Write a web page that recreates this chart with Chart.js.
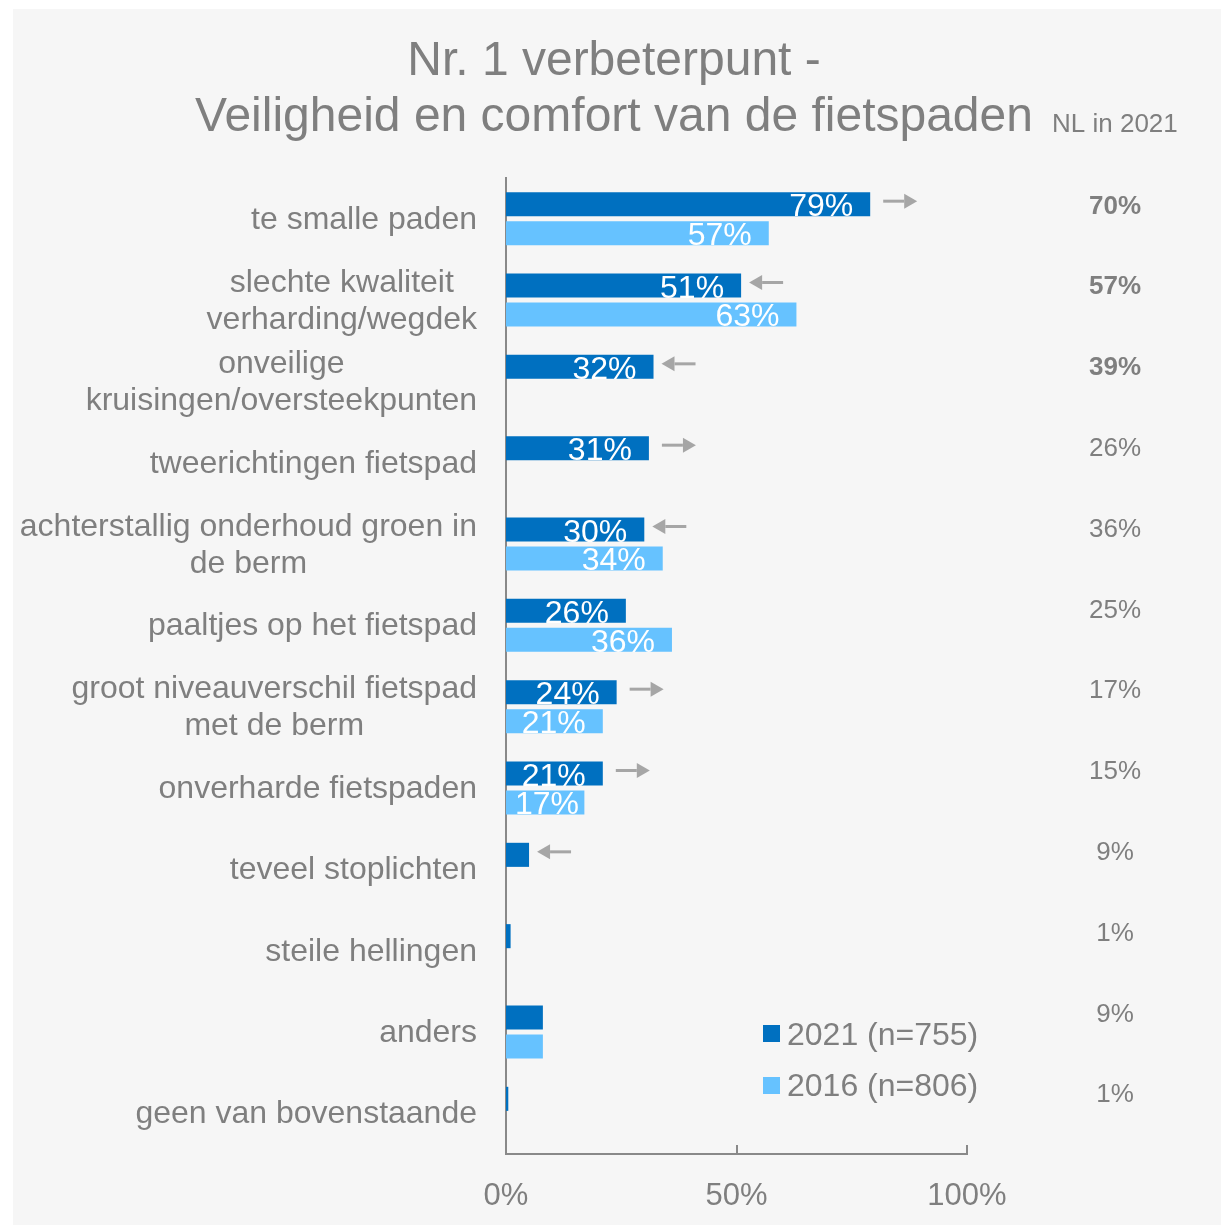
<!DOCTYPE html>
<html>
<head>
<meta charset="utf-8">
<title>Nr. 1 verbeterpunt - Veiligheid en comfort van de fietspaden</title>
<script src="https://cdn.jsdelivr.net/npm/chart.js@4.4.1/dist/chart.umd.min.js"></script>
<style>
	html, body { margin: 0; padding: 0; background: #fff; }
	canvas { display: block; }
</style>
</head>
<body>
<canvas id="chart" width="1223" height="1225"></canvas>
<script>
// labels per category (lines of the label)
const categories = [
	["te smalle paden"],
	["slechte kwaliteit", "verharding/wegdek"],
	["onveilige", "kruisingen/oversteekpunten"],
	["tweerichtingen fietspad"],
	["achterstallig onderhoud groen in", "de berm"],
	["paaltjes op het fietspad"],
	["groot niveauverschil fietspad", "met de berm"],
	["onverharde fietspaden"],
	["teveel stoplichten"],
	["steile hellingen"],
	["anders"],
	["geen van bovenstaande"]
];
const values2021 = [79, 51, 32, 31, 30, 26, 24, 21, 5, 1, 8, 0.5];
const values2016 = [57, 63, null, null, 34, 36, 21, 17, null, null, 8, null];
// arrow next to the 2021 bar
const trend2021 = ["up", "down", "down", "up", "down", null, "up", "up", "down", null, null, null];
const nlValues = ["70%", "57%", "39%", "26%", "36%", "25%", "17%", "15%", "9%", "1%", "9%", "1%"];
const nlBold = [true, true, true, false, false, false, false, false, false, false, false, false];
const xTicks = [0, 50, 100];
const seriesNames = ["2021 (n=755)", "2016 (n=806)"];

const FONT = '"Liberation Sans", Arial, sans-serif';
const GREY = "#7f7f7f";
const DARK = "#0070c0";
const LIGHT = "#66c2ff";
const ARROW = "#a6a6a6";

const font = (size, bold) => `${bold ? "bold " : ""}${size}px ${FONT}`;

const decor = {
	id: "decor",
	beforeDraw: chart => {
		const ctx = chart.ctx;
		ctx.save();
		ctx.fillStyle = "#fff";
		ctx.fillRect(0, 0, chart.width, chart.height);
		ctx.fillStyle = "#f6f6f6";
		ctx.fillRect(13, 9, 1208, chart.height - 9);
		ctx.restore();
	},
	afterDatasetsDraw: chart => {
		const ctx = chart.ctx;
		const left = chart.chartArea.left;
		ctx.save();
		// value labels inside the bars
		ctx.font = font(32);
		ctx.fillStyle = "#fff";
		ctx.textAlign = "right";
		ctx.textBaseline = "alphabetic";
		chart.data.datasets.forEach((ds, di) => {
			chart.getDatasetMeta(di).data.forEach((bar, i) => {
				const v = ds.data[i];
				if (v == null || v < 10) return;
				const txt = `${v}%`;
				const w = ctx.measureText(txt).width;
				const x = Math.max(bar.x - 17, left + 9 + w);
				ctx.fillText(txt, x, bar.y + 12);
			});
		});
		// trend arrows next to the 2021 bars
		ctx.fillStyle = ARROW;
		ctx.strokeStyle = ARROW;
		ctx.lineWidth = 3;
		chart.getDatasetMeta(0).data.forEach((bar, i) => {
			const dir = trend2021[i];
			if (!dir) return;
			const y = bar.y - 3;
			const len = 34, head = 13, hh = 7.5;
			let tip, tail;
			if (dir === "up") {
				tail = bar.x + 13;
				tip = tail + len;
			} else {
				tip = bar.x + 8;
				tail = tip + len;
			}
			const s = dir === "up" ? 1 : -1;
			ctx.beginPath();
			ctx.moveTo(tail, y);
			ctx.lineTo(tip - s * head, y);
			ctx.stroke();
			ctx.beginPath();
			ctx.moveTo(tip, y);
			ctx.lineTo(tip - s * head, y - hh);
			ctx.lineTo(tip - s * head, y + hh);
			ctx.closePath();
			ctx.fill();
		});
		ctx.restore();
	},
	afterDraw: chart => {
		const ctx = chart.ctx;
		const yScale = chart.scales.y;
		const xScale = chart.scales.x;
		const area = chart.chartArea;
		ctx.save();

		// title
		ctx.fillStyle = GREY;
		ctx.textAlign = "center";
		ctx.textBaseline = "alphabetic";
		ctx.font = font(48);
		ctx.fillText("Nr. 1 verbeterpunt -", 614, 75);
		ctx.fillText("Veiligheid en comfort van de fietspaden", 614, 131);
		ctx.textAlign = "left";
		ctx.font = font(26);
		ctx.fillText("NL in 2021", 1052, 132);

		// category labels: block right aligned to the axis, lines centered in block
		ctx.font = font(32);
		ctx.textAlign = "center";
		categories.forEach((lines, i) => {
			const cy = yScale.getPixelForTick(i);
			const w = Math.max(...lines.map(l => ctx.measureText(l).width));
			const cx = area.left - 29 - w / 2;
			lines.forEach((line, li) => {
				ctx.fillText(line, cx, cy + (li - (lines.length - 1) / 2) * 37 + 10);
			});
		});

		// NL in 2021 values
		nlValues.forEach((txt, i) => {
			ctx.font = font(26, nlBold[i]);
			ctx.fillText(txt, 1115, yScale.getPixelForTick(i) - 5 - i * 0.55);
		});

		// tick marks pointing up from the x axis
		ctx.strokeStyle = "#898989";
		ctx.lineWidth = 2;
		xTicks.slice(1).forEach(t => {
			const x = Math.round(xScale.getPixelForValue(t));
			ctx.beginPath();
			ctx.moveTo(x, area.bottom);
			ctx.lineTo(x, area.bottom - 9);
			ctx.stroke();
		});

		// legend
		ctx.textAlign = "left";
		ctx.font = font(32);
		[DARK, LIGHT].forEach((c, i) => {
			ctx.fillStyle = c;
			ctx.fillRect(763, 1025 + i * 52, 17, 17);
			ctx.fillStyle = GREY;
			ctx.fillText(seriesNames[i], 787, 1045 + i * 51);
		});
		ctx.restore();
	}
};

new Chart(document.getElementById("chart"), {
	type: "bar",
	data: {
		labels: categories,
		datasets: [{
			label: seriesNames[0],
			data: values2021,
			backgroundColor: DARK,
			borderWidth: 0,
			barPercentage: 0.83,
			categoryPercentage: 0.713
		}, {
			label: seriesNames[1],
			data: values2016,
			backgroundColor: LIGHT,
			borderWidth: 0,
			barPercentage: 0.83,
			categoryPercentage: 0.713
		}]
	},
	options: {
		indexAxis: "y",
		responsive: false,
		animation: false,
		devicePixelRatio: 1,
		layout: {
			padding: { top: 178, left: 506, right: 256, bottom: 0 }
		},
		plugins: {
			legend: { display: false },
			tooltip: { enabled: false },
			title: { display: false }
		},
		scales: {
			x: {
				min: 0,
				max: 100,
				afterFit: scale => { scale.height = 71; },
				afterBuildTicks: scale => { scale.ticks = xTicks.map(v => ({ value: v })); },
				ticks: {
					callback: v => `${v}%`,
					color: GREY,
					font: { family: FONT, size: 31 },
					padding: 24,
					maxRotation: 0
				},
				grid: { display: false, drawTicks: false },
				border: { display: true, color: "#898989", width: 2 }
			},
			y: {
				afterFit: scale => { scale.width = 0; },
				ticks: { display: false },
				grid: { display: false, drawTicks: false },
				border: { display: true, color: "#898989", width: 2 }
			}
		}
	},
	plugins: [decor]
});
</script>
</body>
</html>
